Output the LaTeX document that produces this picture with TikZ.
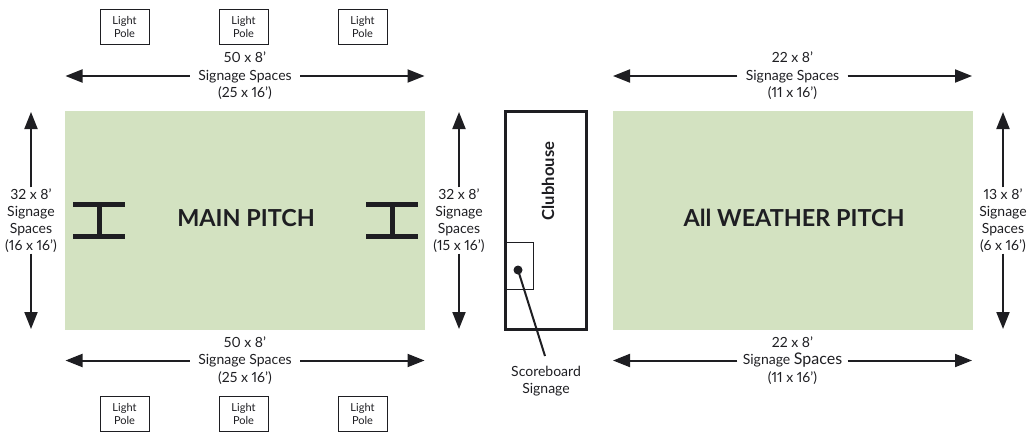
\documentclass[tikz,border=0pt]{standalone}
\usepackage{fontspec}
\setmainfont[Numbers=Proportional]{Lato}
\usetikzlibrary{arrows.meta}
\definecolor{ink}{HTML}{1E1E22}
\definecolor{grass}{HTML}{D3E2C1}
\tikzset{
  x=1pt,y=-1pt,
  pitch/.style={fill=grass,draw=none,minimum width=360pt,minimum height=219pt,inner sep=0pt,text=ink},
  pitchtext/.style={text=ink,font=\fontsize{23.4}{26}\selectfont\bfseries},
  pole/.style={draw=ink,line width=1pt,fill=white,minimum width=49pt,minimum height=35pt,inner sep=0pt,align=center,text=ink,font=\fontsize{11}{12.8}\selectfont},
  hlabel/.style={minimum width=110pt,minimum height=40pt,inner sep=0pt,align=center,text=ink,font=\fontsize{14}{17.6}\selectfont},
  vlabel/.style={minimum width=50pt,minimum height=66pt,inner sep=0pt,align=center,text=ink,font=\fontsize{14}{17}\selectfont},
  arr/.style={draw=ink,line width=2pt,-{Triangle[length=17pt,width=13pt]}},
  goalbar/.style={draw=ink,line width=5pt},
}
\begin{document}
\begin{tikzpicture}
\useasboundingbox (0,0) rectangle (1027,434);
% pitches
\node[pitch] (main) at (245,220.5) {};
\node[pitch] (aw) at (793,220.5) {};
\node[pitchtext] (mainlabel) at (246,218) {MAIN PITCH};
\node[pitchtext] (awlabel) at (794,218) {All WEATHER PITCH};
% light poles
\foreach \n/\x in {a/124.5,b/243.5,c/362.5}{
  \node[pole] (top\n) at (\x,27) {Light\\Pole};
  \node[pole] (bot\n) at (\x,414) {Light\\Pole};
}
% goals
\foreach \n/\x in {l/99,r/392}{
  \coordinate (g\n tl) at (\x-26,204.5);
  \coordinate (g\n tr) at (\x+26,204.5);
  \coordinate (g\n bl) at (\x-26,236.5);
  \coordinate (g\n br) at (\x+26,236.5);
  \coordinate (g\n t) at (\x-.5*0,204.5);
  \coordinate (g\n b) at (\x-.5*0,236.5);
  \draw[goalbar] (g\n tl) -- (g\n tr);
  \draw[goalbar] (g\n bl) -- (g\n br);
  \draw[goalbar] (g\n t) -- (g\n b);
}
% horizontal labels
\foreach \n/\x/\y/\t in {
  mt/245/76/{50 x 8'\\Signage Spaces\\(25 x 16')},
  mb/245/360.5/{50 x 8'\\Signage Spaces\\(25 x 16')},
  at/792.5/76/{22 x 8'\\Signage Spaces\\(11 x 16')}}{
  \node[hlabel] (\n) at (\x,\y) {\t};
  \coordinate (\n L) at (\x-179.5,\y);
  \coordinate (\n R) at (\x+179.5,\y);
  \draw[arr] (\n.west) -- (\n L);
  \draw[arr] (\n.east) -- (\n R);
}
\node[hlabel] (ab) at (792.5,360.5) {22 x 8'\\Signage {\fontsize{16}{17.6}\selectfont Spaces}\\(11 x 16')};
\coordinate (abL) at (613,360.5);
\coordinate (abR) at (972,360.5);
\draw[arr] (ab.west) -- (abL);
\draw[arr] (ab.east) -- (abR);
% vertical labels
\foreach \n/\x/\t in {
  vl/31/{32 x 8'\\Signage\\Spaces\\(16 x 16')},
  vm/459/{32 x 8'\\Signage\\Spaces\\(15 x 16')},
  vr/1003/{13 x 8'\\Signage\\Spaces\\(6 x 16')}}{
  \node[vlabel] (\n) at (\x,220.5) {\t};
  \coordinate (\n T) at (\x,112);
  \coordinate (\n B) at (\x,329);
  \draw[arr] (\n.north) -- (\n T);
  \draw[arr] (\n.south) -- (\n B);
}
% clubhouse
\node[draw=ink,line width=3pt,minimum width=81pt,minimum height=218pt,inner sep=0pt] (club) at (546,220.5) {};
\node[rotate=90,text=ink,font=\fontsize{16.6}{18}\selectfont\bfseries] (clublabel) at (548,181) {Clubhouse};
\node[draw=ink,line width=1pt,minimum width=28pt,minimum height=47pt,inner sep=0pt] (board) at (519,265.5) {};
\node[circle,fill=ink,minimum size=9pt,inner sep=0pt] (dot) at (518,270) {};
\node[align=center,inner sep=0pt,minimum height=34pt,text=ink,font=\fontsize{14}{17}\selectfont] (sign) at (546,381.5) {Scoreboard\\Signage};
\coordinate (signtop) at (545,356);
\draw[draw=ink,line width=2pt] (dot.center) -- (signtop);
\end{tikzpicture}
\end{document}
